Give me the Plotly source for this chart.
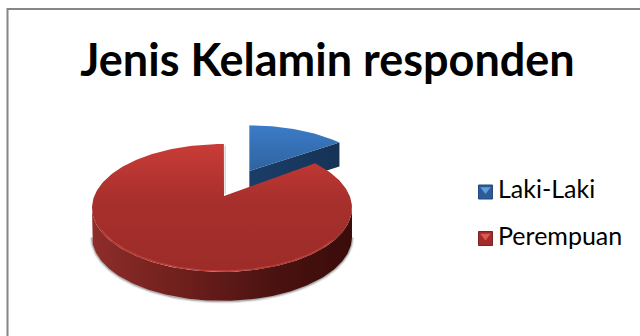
import numpy as np
import plotly.graph_objects as go

# Survey shares per gender
categories = ["Laki-Laki", "Perempuan"]
values = [15, 85]
chart_title = "Jenis Kelamin responden"

# Perspective projection of the tilted pie onto the page (units are pixels)
CX, CY = 222.0, 196.0
RX, RY = 127.7, 61.7
PERSP = 0.187
DEPTH = 29.0
EXPLODE = 0.49
APEX_X = CX + 2


def project(angle_deg, radius=1.0, shift=(0.0, 0.0), drop=0.0):
    a = np.radians(np.asarray(angle_deg, dtype=float))
    gx = shift[0] + radius * np.sin(a)
    gy = shift[1] + radius * np.cos(a)
    w = 1 + PERSP * gy
    return CX + RX * gx / w, CY - RY * gy / w + drop


def polygon(xs, ys, name, solid, gradient=None, direction="vertical"):
    trace = dict(x=xs, y=ys, mode="lines", fill="toself", line=dict(width=0),
                 name=name, hoverinfo="name", showlegend=False)
    if gradient:
        trace["fillgradient"] = dict(type=direction, colorscale=gradient)
    else:
        trace["fillcolor"] = solid
    return go.Scatter(**trace)


total = sum(values)
blue_sweep = 360 * values[0] / total
mid = np.radians(blue_sweep / 2)
blue_shift = (EXPLODE * np.sin(mid) + 0.05, EXPLODE * np.cos(mid))
traces = []

# Detached slice: cut face first, then its top; the left cut stays upright
th = np.linspace(0, blue_sweep, 40)
bx, by = project(th, 1.02, blue_shift)
ax, ay = project([0], 0, blue_shift)
ax = bx[:1]
traces.append(polygon(
    [ax[0], bx[-1], bx[-1], ax[0]],
    [ay[0], by[-1], by[-1] + 24, ay[0] + 24],
    categories[0], "#1b3a63",
    [[0, "#1a3d68"], [1, "#163356"]], "horizontal"))
traces.append(polygon(
    np.r_[ax, bx, ax], np.r_[ay, by, ay], categories[0], "#3570b5",
    [[0, "#2f639f"], [1, "#3b7cc8"]]))

# Main slice: ground shadow, wall, top face, rim highlight
red_angles = np.linspace(blue_sweep, 361, 240)
wall = np.linspace(100.8, 259.2, 160)
lx, ly = project(wall, 1, drop=DEPTH)
for width, alpha in ((5, 0.07), (3, 0.14), (1.5, 0.22)):
    traces.append(go.Scatter(x=lx, y=ly + 0.5, mode="lines", hoverinfo="skip",
                             showlegend=False,
                             line=dict(color=f"rgba(40,40,40,{alpha})", width=width)))
ux, uy = project(wall, 1)
traces.append(polygon(
    np.r_[ux, lx[::-1]], np.r_[uy, ly[::-1]], categories[1], "#6a1d1a",
    [[0, "#8f2d2a"], [0.35, "#6e1f1c"], [0.7, "#4a1210"], [1, "#3a0c0a"]],
    "horizontal"))
rx, ry = project(red_angles, 1)
traces.append(polygon(
    np.r_[APEX_X, rx, APEX_X], np.r_[CY, ry, CY], categories[1], "#a8302d",
    [[0, "#9c2c29"], [0.55, "#a72f2c"], [1, "#c93c37"]]))
hx, hy = project(np.linspace(130, 240, 100), 0.99)
traces.append(go.Scatter(x=hx, y=hy, mode="lines", hoverinfo="skip", showlegend=False,
                         line=dict(color="rgba(205,72,66,0.7)", width=1.2)))
# Thin shade along the straight cut beside the gap
traces.append(go.Scatter(x=[APEX_X + 1.2, APEX_X + 1.2], y=[146, CY - 2], mode="lines",
                         hoverinfo="skip", showlegend=False,
                         line=dict(color="rgba(120,120,120,0.3)", width=1.5)))

# Key: bevelled square swatches with their labels
KEY_X, KEY_Y, LABEL_X = 485.5, [192, 238.5], 498
swatches = [("#2c5b97", "#5f9fe0", "#24497c"), ("#a32c2a", "#dc5a55", "#7d2220")]
for name, y, (body, light, edge) in zip(categories, KEY_Y, swatches):
    traces.append(go.Scatter(
        x=[KEY_X], y=[y], mode="markers", hoverinfo="skip", showlegend=False,
        marker=dict(symbol="square", size=14, color=body, line=dict(color=edge, width=1))))
    traces.append(go.Scatter(
        x=[KEY_X], y=[y - 2.5], mode="markers", hoverinfo="skip", showlegend=False,
        marker=dict(symbol="triangle-down", size=9, color=light)))
    traces.append(go.Scatter(
        x=[LABEL_X], y=[y], mode="text", text=[name], hoverinfo="skip",
        showlegend=False, textposition="middle right",
        textfont=dict(family="Lato", size=25, color="#000000")))

fig = go.Figure(traces)
fig.update_layout(
    width=640, height=336, margin=dict(l=0, r=0, t=0, b=0),
    paper_bgcolor="white", plot_bgcolor="white", showlegend=False,
    xaxis=dict(range=[0, 640], visible=False, fixedrange=True),
    yaxis=dict(range=[336, 0], visible=False, fixedrange=True),
    title=dict(text=f"<b>{chart_title}</b>", x=327.5 / 640, xanchor="center",
               xref="paper", yref="paper", y=1 - 60 / 336, yanchor="middle",
               font=dict(family="Lato", size=45, color="#000000")),
    shapes=[dict(type="rect", xref="x", yref="y", x0=7.5, y0=9, x1=700, y1=400,
                 line=dict(color="#868686", width=2), layer="below")],
)
fig.write_html("out.html")
